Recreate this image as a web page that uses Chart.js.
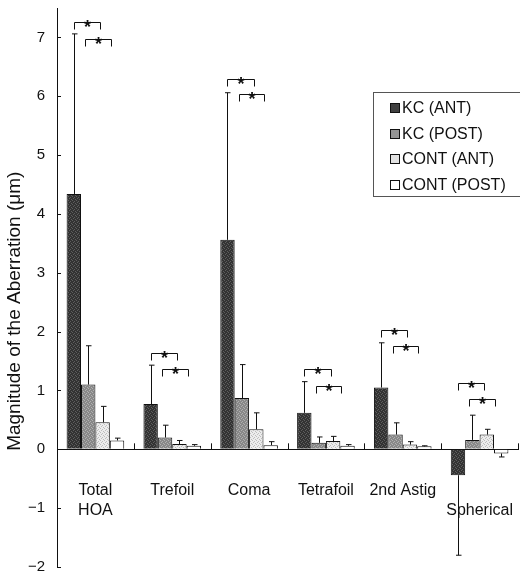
<!DOCTYPE html>
<html>
<head>
<meta charset="utf-8">
<script src="https://cdn.jsdelivr.net/npm/chart.js@4.4.0/dist/chart.umd.min.js"></script>
<style>
  html, body { margin: 0; padding: 0; background: #fff; overflow: hidden; }
  #wrap { position: relative; width: 520px; height: 579px; }
  #legend {
    position: absolute; left: 373px; top: 92px; width: 160px; height: 105px;
    border: 1px solid #555; box-sizing: border-box; padding-top: 2px;
    font: 16px "Liberation Sans", Arial, sans-serif; color: #111;
  }
  .item { height: 25.7px; display: flex; align-items: center; padding-left: 16px; }
  .swatch { width: 10px; height: 10px; border: 1px solid #111; box-sizing: border-box; margin-right: 2px; }
</style>
</head>
<body>
<div id="wrap">
  <canvas id="aberrationChart" width="520" height="579"></canvas>
  <div id="legend"></div>
</div>
<script>
// categories on the x axis (array = multi-line label)
const categories = [['Total', 'HOA'], 'Trefoil', 'Coma', 'Tetrafoil', '2nd Astig', ['', 'Spherical']];

// mean values (µm)
const kcAnt    = [4.34, 0.77, 3.56, 0.62, 1.05, -0.44];
const kcPost   = [1.10, 0.20, 0.87, 0.11, 0.25, 0.16];
const contAnt  = [0.46, 0.09, 0.34, 0.14, 0.08, 0.25];
const contPost = [0.15, 0.06, 0.07, 0.06, 0.05, -0.07];

// standard deviations (error bars)
const kcAntSd    = [2.72, 0.66, 2.50, 0.53, 0.76, 1.36];
const kcPostSd   = [0.66, 0.21, 0.57, 0.10, 0.20, 0.42];
const contAntSd  = [0.27, 0.06, 0.28, 0.08, 0.05, 0.09];
const contPostSd = [0.04, 0.02, 0.06, 0.02, 0.01, 0.06];

// height of the two significance brackets for each category
const bracketLevels = [[7.26, 6.98], [1.63, 1.36], [6.30, 6.03], [1.37, 1.08], [2.03, 1.76], [1.12, 0.85]];

// y axis range and tick labels
const yMin = -2;
const yMax = 7.5;
const yTicks = [-2, -1, 0, 1, 2, 3, 4, 5, 6, 7];

// small speckled fill so the bars look like the printed halftones
function speckle(base, spot) {
    const c = document.createElement('canvas');
    c.width = 4; c.height = 4;
    const g = c.getContext('2d');
    g.fillStyle = base;
    g.fillRect(0, 0, 4, 4);
    g.fillStyle = spot;
    [[0, 0], [2, 1], [1, 2], [3, 3]].forEach(([a, b]) => g.fillRect(a, b, 1, 1));
    return g.createPattern(c, 'repeat');
}

const fills = [speckle('#333333', '#5e5e5e'), speckle('#888888', '#b0b0b0'), speckle('#ececec', '#bdbdbd'), '#ffffff'];
const swatchColors = ['#404040', '#959595', '#e2e2e2', '#ffffff'];

Chart.defaults.font.family = '"Liberation Sans", Arial, sans-serif';
Chart.defaults.color = '#111';

// draws inward tick marks, error bars and the significance brackets
const annotate = {
    id: 'annotate',
    afterDatasetsDraw(chart) {
        const { ctx, chartArea, scales: { x, y } } = chart;
        const zero = y.getPixelForValue(0);
        ctx.save();
        ctx.strokeStyle = '#111';
        ctx.lineWidth = 1;

        // y ticks pointing into the plot
        ctx.beginPath();
        yTicks.forEach(v => {
            const py = Math.round(y.getPixelForValue(v)) + 0.5;
            ctx.moveTo(chartArea.left, py);
            ctx.lineTo(chartArea.left + 4, py);
        });
        // x ticks between the categories, pointing up
        const step = x.width / categories.length;
        categories.forEach((c, i) => {
            const px = Math.round(x.getPixelForValue(i) + step / 2) + 0.5;
            ctx.moveTo(px, zero);
            ctx.lineTo(px, zero - 6);
        });
        ctx.stroke();

        // error bars
        chart.data.datasets.forEach((ds, i) => {
            chart.getDatasetMeta(i).data.forEach((bar, j) => {
                const v = ds.data[j];
                const end = v >= 0 ? v + ds.sd[j] : v - ds.sd[j];
                const ye = y.getPixelForValue(end);
                const bx = Math.round(bar.x) + 0.5;
                ctx.beginPath();
                ctx.moveTo(bx, bar.y);
                ctx.lineTo(bx, ye);
                ctx.moveTo(bx - 2.5, ye);
                ctx.lineTo(bx + 3, ye);
                ctx.stroke();
            });
        });

        // brackets with stars
        ctx.font = 'bold 18px "Liberation Sans", Arial, sans-serif';
        ctx.fillStyle = '#111';
        ctx.textAlign = 'center';
        ctx.textBaseline = 'alphabetic';
        chart.getDatasetMeta(0).data.forEach((bar, j) => {
            const w = bar.width;
            const spans = [[0, 1.82], [0.8, 2.56]];
            spans.forEach((s, k) => {
                const x1 = Math.round(bar.x + s[0] * w) + 0.5;
                const x2 = Math.round(bar.x + s[1] * w) + 0.5;
                const yt = Math.round(y.getPixelForValue(bracketLevels[j][k])) + 0.5;
                ctx.beginPath();
                ctx.moveTo(x1, yt + 7);
                ctx.lineTo(x1, yt);
                ctx.lineTo(x2, yt);
                ctx.lineTo(x2, yt + 7);
                ctx.stroke();
                ctx.fillText('*', (x1 + x2) / 2, yt + 10);
            });
        });
        ctx.restore();
    }
};

const ctx = document.getElementById('aberrationChart').getContext('2d');

const chart = new Chart(ctx, {
    type: 'bar',
    data: {
        labels: categories,
        datasets: [
            { label: 'KC (ANT)', data: kcAnt, sd: kcAntSd },
            { label: 'KC (POST)', data: kcPost, sd: kcPostSd },
            { label: 'CONT (ANT)', data: contAnt, sd: contAntSd },
            { label: 'CONT (POST)', data: contPost, sd: contPostSd }
        ].map((ds, i) => Object.assign(ds, {
            backgroundColor: fills[i],
            borderColor: '#111',
            borderWidth: 1,
            borderSkipped: 'start',
            categoryPercentage: 0.75,
            barPercentage: 1
        }))
    },
    options: {
        responsive: false,
        animation: false,
        layout: { padding: { top: 8, right: 2, bottom: 12, left: 0 } },
        plugins: {
            legend: { display: false },
            tooltip: { enabled: false }
        },
        scales: {
            x: {
                position: { y: 0 },
                grid: { drawOnChartArea: false, drawTicks: false },
                border: { display: true, color: '#111', width: 1 },
                ticks: { padding: 32, font: { size: 16 }, color: '#111', maxRotation: 0, autoSkip: false },
                afterFit(scale) { scale.paddingLeft = 0; scale.paddingRight = 0; }
            },
            y: {
                min: yMin,
                max: yMax,
                afterFit(scale) {
                    scale.width = 57;
                    scale.paddingTop = 0;
                    scale.paddingBottom = 0;
                },
                afterBuildTicks(scale) { scale.ticks = yTicks.map(v => ({ value: v })); },
                grid: { drawOnChartArea: false, drawTicks: false },
                border: { display: true, color: '#111', width: 1 },
                ticks: {
                    padding: 12,
                    font: { size: 15 },
                    color: '#111',
                    callback: v => (v < 0 ? '\u2212' + Math.abs(v) : String(v))
                },
                title: {
                    display: true,
                    text: 'Magnitude of the Aberration (\u03bcm)' + ' '.repeat(9),
                    font: { size: 19 },
                    color: '#111',
                    padding: { top: 3, bottom: 0 }
                }
            }
        }
    },
    plugins: [annotate]
});

// legend built from the datasets
const legend = document.getElementById('legend');
chart.data.datasets.forEach((ds, i) => {
    const item = document.createElement('div');
    item.className = 'item';
    const sw = document.createElement('span');
    sw.className = 'swatch';
    sw.style.background = swatchColors[i];
    item.appendChild(sw);
    item.appendChild(document.createTextNode(ds.label));
    legend.appendChild(item);
});
</script>
</body>
</html>
